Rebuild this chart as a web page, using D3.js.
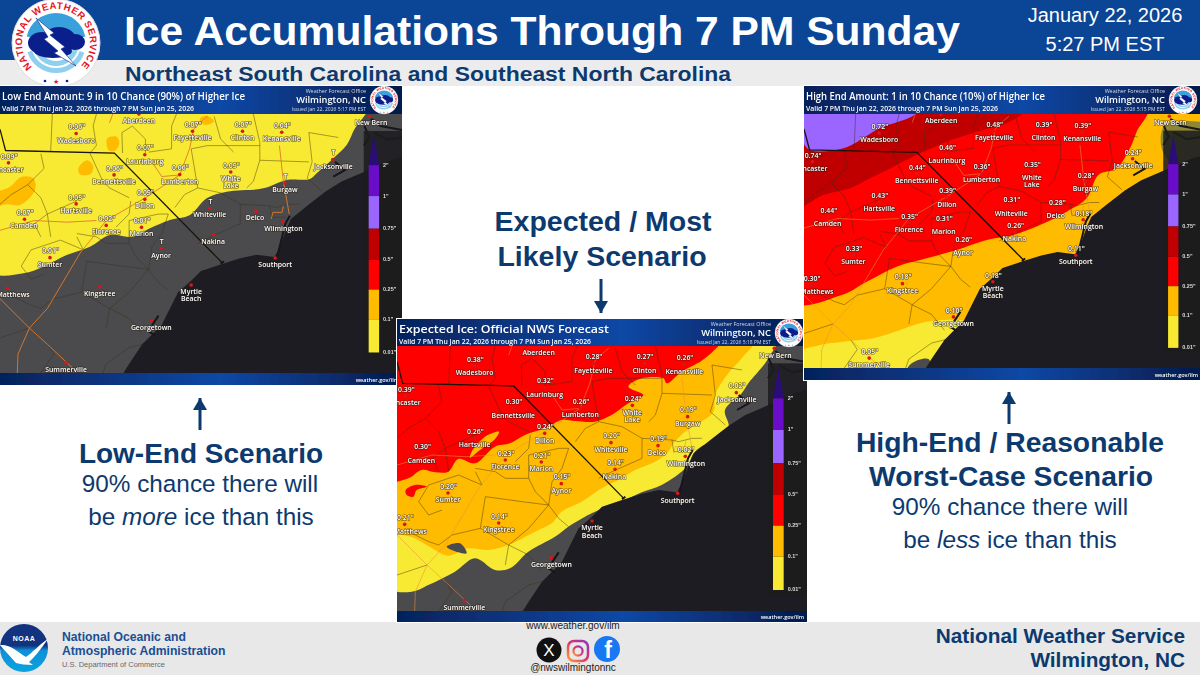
<!DOCTYPE html>
<html>
<head>
<meta charset="utf-8">
<script src="https://cdn.jsdelivr.net/npm/d3@7"></script>
<style>
html, body { margin: 0; padding: 0; background: #fff; overflow: hidden; }
svg { display: block; font-family: "Liberation Sans", sans-serif; }
.town { font-family: "Open Sans", sans-serif; font-weight: 600; fill: #fff; paint-order: stroke; stroke: rgba(40,30,20,.7); stroke-width: 1.2px; text-anchor: middle; dominant-baseline: middle; }
.bar { font-family: "Open Sans", sans-serif; }
</style>
</head>
<body>
<svg id="chart" width="1200" height="675"></svg>
<script>
// towns: name, x, y, label shift (in the units of the shared base map)
var towns = [
  ["Aberdeen", 430, 93, 0], ["Wadesboro", 238, 153, 0], ["Fayetteville", 594, 146, 0],
  ["Clinton", 747, 146, 0], ["Kenansville", 867, 149, 0], ["New Bern", 1137, 100, 3],
  ["Laurinburg", 448, 218, 0], ["Lancaster", 31, 243, -4], ["Bennettsville", 354, 280, 0],
  ["Lumberton", 555, 279, 0], ["White\nLake", 711, 271, 0], ["Jacksonville", 1023, 233, 2],
  ["Burgaw", 877, 305, 0], ["Dillon", 448, 355, 0], ["Hartsville", 238, 369, 0],
  ["Camden", 80, 416, -2], ["Florence", 330, 435, 0], ["Marion", 438, 441, 0],
  ["Whiteville", 647, 383, 0], ["Delco", 788, 392, -3], ["Wilmington", 870, 424, 2],
  ["Nakina", 659, 463, -2], ["Aynor", 498, 506, 0], ["Sumter", 158, 534, 0],
  ["Kingstree", 310, 624, 0], ["Matthews", 28, 628, 17], ["Southport", 847, 535, 0],
  ["Myrtle\nBeach", 590, 618, 0], ["Georgetown", 468, 728, 0], ["Summerville", 207, 857, 0]
];

var lowValues = { "Wadesboro": '0.06"', "Fayetteville": '0.07"', "Clinton": '0.07"', "Kenansville": '0.04"',
  "Laurinburg": '0.07"', "Lancaster": '0.09"', "Bennettsville": '0.06"', "Lumberton": '0.06"',
  "White\nLake": '0.05"', "Jacksonville": 'T', "Burgaw": 'T', "Dillon": '0.05"', "Hartsville": '0.05"',
  "Camden": '0.07"', "Florence": '0.02"', "Marion": '0.01"', "Whiteville": 'T', "Aynor": 'T', "Sumter": '0.01"' };

var midValues = { "Wadesboro": '0.38"', "Fayetteville": '0.28"', "Clinton": '0.27"', "Kenansville": '0.26"',
  "Laurinburg": '0.32"', "Lancaster": '0.39"', "Bennettsville": '0.30"', "Lumberton": '0.26"',
  "White\nLake": '0.24"', "Jacksonville": '0.02"', "Burgaw": '0.19"', "Dillon": '0.24"', "Hartsville": '0.26"',
  "Camden": '0.30"', "Florence": '0.23"', "Marion": '0.21"', "Whiteville": '0.20"', "Delco": '0.19"',
  "Wilmington": '0.02"', "Nakina": '0.14"', "Aynor": '0.15"', "Sumter": '0.20"', "Kingstree": '0.14"', "Matthews": '0.21"' };

var highValues = { "Wadesboro": '0.72"', "Fayetteville": '0.48"', "Clinton": '0.39"', "Kenansville": '0.39"',
  "Laurinburg": '0.46"', "Lancaster": '0.74"', "Bennettsville": '0.44"', "Lumberton": '0.36"',
  "White\nLake": '0.35"', "Jacksonville": '0.24"', "Burgaw": '0.28"', "Dillon": '0.39"', "Hartsville": '0.43"',
  "Camden": '0.44"', "Florence": '0.35"', "Marion": '0.31"', "Whiteville": '0.31"', "Delco": '0.28"',
  "Wilmington": '0.18"', "Southport": '0.11"', "Nakina": '0.26"', "Aynor": '0.26"', "Sumter": '0.33"',
  "Kingstree": '0.18"', "Myrtle\nBeach": '0.18"', "Georgetown": '0.10"', "Summerville": '0.05"', "Matthews": '0.30"' };

// legend
var legendLabels = ['2"', '1"', '0.75"', '0.5"', '0.25"', '0.1"', '0.01"'];
var legendBreaks = [250, 345, 445, 540, 632, 725, 825];
var legendColors = ["#6a0dc9", "#9a66ff", "#c00000", "#ff0000", "#ffbb00", "#f8ea30"];

// shared base map
var ocean = [[1300,205],[1200,235],[1120,270],[1050,300],[1000,332],[945,375],[895,415],[880,450],[862,500],[845,532],[790,525],[740,536],[680,555],[620,575],[590,605],[550,640],[520,700],[500,740],[470,770],[440,800],[400,860],[375,900],[1300,900]];
var inlets = [
  [[1140,108],[1170,130],[1235,142]], [[1150,150],[1190,172],[1235,165]], [[1120,130],[1135,165],[1118,190]],
  [[1030,240],[1060,265],[1025,285]], [[852,535],[866,480],[878,430],[892,405]],
  [[470,742],[490,712]], [[460,760],[478,772]], [[680,553],[690,545]]
];
var counties = [
  [[165,93],[160,210]], [[300,93],[290,130],[300,190],[280,213]], [[380,213],[378,150],[410,130],[450,170],[450,213]],
  [[545,93],[530,130],[530,200],[460,210]], [[660,100],[680,170],[720,210]], [[780,93],[800,180],[800,235],[780,300],[760,320]],
  [[800,235],[950,240]], [[950,150],[1040,165]], [[950,150],[960,240],[945,290],[990,330]], [[590,200],[640,190],[800,190]],
  [[590,200],[610,320],[570,340],[540,380]], [[610,320],[680,335],[740,370],[830,375],[850,380],[890,370],[920,370]],
  [[740,370],[740,430],[650,470],[610,490]], [[130,215],[140,260],[90,310],[40,340],[5,370]], [[280,213],[320,300],[340,320],[400,350]],
  [[405,360],[400,400],[360,440]], [[240,360],[150,400],[160,470]], [[150,400],[110,430],[130,470]],
  [[520,400],[490,400],[400,420],[400,490],[420,530],[460,570],[490,610],[520,635]], [[520,400],[500,460],[470,500],[460,570]],
  [[400,490],[330,490],[300,470],[240,460]], [[240,470],[260,510],[190,480],[100,510],[70,560],[100,600],[140,585]],
  [[270,545],[380,560],[460,570]], [[270,545],[255,640],[170,660],[130,690],[100,680],[40,650],[5,650]],
  [[255,640],[340,690],[400,720],[440,770]], [[460,570],[400,640],[340,690],[330,750]], [[480,790],[440,800],[400,810],[330,860],[320,888]],
  [[5,780],[95,750]], [[150,800],[170,830],[130,888]], [[830,375],[835,410],[880,410]], [[90,310],[130,350],[150,400]]
];
var roads = [
  [[58,888],[60,830],[95,750],[150,690],[250,520],[330,420],[450,350],[555,280],[585,200],[598,140]],
  [[5,450],[110,420],[210,425],[300,420]], [[5,660],[95,750],[150,800],[235,880]],
  [[860,190],[872,300],[890,400]], [[835,415],[840,395],[868,395],[872,375]], [[470,240],[500,285],[555,280]],
  [[640,100],[610,125],[598,140]], [[340,120],[350,93]]
];
var stateLine = [[5,140],[22,205],[355,213],[685,550]];

var lowYellow = [[1115,60],[1095,90],[1065,130],[1040,180],[1000,220],[950,265],[930,282],[860,285],[790,310],[680,320],[620,340],[570,390],[510,405],[450,430],[400,455],[330,450],[270,485],[200,510],[130,545],[70,565],[-30,558],[-30,50]];
var lowOrange = [
  [[322,160],[350,155],[358,175],[345,197],[325,195]], [[235,250],[262,226],[280,245],[270,268],[240,268]],
  [[-20,330],[30,305],[65,275],[100,280],[105,315],[60,360],[20,358],[-20,365]], [[600,100],[620,92],[642,108],[620,120],[605,115]]
];
var midYellow = [[1145,60],[1120,130],[1060,205],[1040,235],[990,285],[1000,340],[900,410],[875,455],[800,510],[740,532],[680,560],[600,590],[570,605],[520,635],[480,665],[400,710],[345,760],[300,765],[240,730],[180,770],[100,810],[50,830],[-20,815],[-30,50]];
var midOrange = [[1085,60],[1040,130],[1000,175],[960,240],[955,290],[910,325],[870,350],[835,385],[820,410],[780,440],[720,465],[680,490],[620,520],[560,560],[500,590],[470,625],[420,650],[340,690],[280,705],[220,700],[160,722],[120,705],[60,670],[-20,635],[-30,50]];
var midRed = [[985,60],[930,130],[860,170],[815,205],[805,190],[740,190],[700,215],[745,240],[700,265],[650,300],[600,320],[540,318],[500,315],[450,340],[390,360],[345,385],[300,395],[240,445],[190,432],[160,470],[120,472],[80,465],[40,490],[-20,495],[-30,50]];
var midRedBlob = [[32,525],[60,510],[95,515],[65,525],[55,545],[35,540]];
var midOrangeStrip = [[230,410],[270,365],[312,350],[300,372],[255,405],[225,428]];
var midLake = [[155,695],[195,685],[215,715],[190,712]];
var highLand = [[-40,30],[1300,30],[1300,900],[-40,900]];
var highYellow = [[-30,815],[60,780],[130,770],[220,760],[300,735],[360,715],[430,705],[520,720],[560,900],[-30,900]];
var highRed = [[1045,60],[1010,140],[990,190],[950,250],[895,270],[860,340],[800,380],[720,420],[640,450],[560,465],[470,495],[380,520],[290,545],[200,590],[125,630],[-30,650],[-30,40]];
var highDarkRed = [[690,60],[620,115],[550,135],[440,170],[360,205],[280,245],[210,280],[150,310],[70,330],[-30,375],[-30,40]];
var highPurple = [[355,60],[345,88],[240,130],[130,190],[30,195],[-5,160],[-30,240],[-40,40]];
var highOlive = [[1095,120],[1200,110],[1260,120],[1260,210],[1120,235],[1085,190]];
var highGray = [[320,860],[335,835],[385,822],[395,860]];

var panels = [
  { title: "Low End Amount: 9 in 10 Chance (90%) of Higher Ice", issued: "Issued Jan 22, 2026 5:17 PM EST", values: lowValues,
    x0: 0, x1: 402, top: 86, y0: 114, y1: 373, bottom: 385, ox: 0, oy: 85, titleEnd: 245,
    areas: [[lowYellow, "yellow"]].concat(lowOrange.map(function(d) { return [d, "orange"]; })) },
  { title: "Expected Ice: Official NWS Forecast", issued: "Issued Jan 22, 2026 5:18 PM EST", values: midValues,
    x0: 397, x1: 807, top: 319, y0: 346, y1: 611, bottom: 622, ox: 395, oy: 315, titleEnd: 609,
    areas: [[midYellow, "yellow"], [midOrange, "orange"], [midRed, "red"], [midRedBlob, "red"], [midOrangeStrip, "orange"], [midLake, "gray"]] },
  { title: "High End Amount: 1 in 10 Chance (10%) of Higher Ice", issued: "Issued Jan 22, 2026 5:15 PM EST", values: highValues,
    x0: 804, x1: 1201, top: 86, y0: 114, y1: 368, bottom: 380, ox: 800, oy: 85, titleEnd: 1045,
    areas: [[highLand, "orange"], [highYellow, "yellow"], [highRed, "red"], [highDarkRed, "darkred"], [highPurple, "purple"], [highGray, "gray"], [highOlive, "olive"]] }
];
var areaColors = { yellow: "#f8ea30", orange: "#ffbb00", red: "#ff0000", darkred: "#c00000", purple: "#9a66ff", gray: "#4b4b4d", olive: "#8d8734" };

var NAVY = "#0d3a6e";
var svg = d3.select("#chart");
var defs = svg.append("defs");

var barGrad = defs.append("linearGradient").attr("id", "bar");
barGrad.append("stop").attr("offset", "0").attr("stop-color", "#06225a");
barGrad.append("stop").attr("offset", ".55").attr("stop-color", "#0c48a6");
barGrad.append("stop").attr("offset", "1").attr("stop-color", "#051a4a");

var igGrad = defs.append("linearGradient").attr("id", "ig").attr("x1", 0).attr("y1", 1).attr("x2", 1).attr("y2", 0);
igGrad.append("stop").attr("offset", "0").attr("stop-color", "#f9a33a");
igGrad.append("stop").attr("offset", ".5").attr("stop-color", "#e1306c");
igGrad.append("stop").attr("offset", "1").attr("stop-color", "#8a3ab9");

var noaaGrad = defs.append("linearGradient").attr("id", "noaa").attr("x1", 0).attr("y1", 0).attr("x2", 0).attr("y2", 1);
noaaGrad.append("stop").attr("offset", ".45").attr("stop-color", "#12337f");
noaaGrad.append("stop").attr("offset", ".55").attr("stop-color", "#0f8fd6");
noaaGrad.append("stop").attr("offset", "1").attr("stop-color", "#0aa3e0");

// the source maps are soft screenshots
defs.append("filter").attr("id", "soft").append("feGaussianBlur").attr("stdDeviation", 0.35);

// header
svg.append("rect").attr("width", 1200).attr("height", 60).attr("fill", "#0b4595");
svg.append("rect").attr("y", 60).attr("width", 1200).attr("height", 26).attr("fill", "#ececec");
svg.append("text").attr("x", 124).attr("y", 45).attr("fill", "#fff").attr("font-size", 40).attr("font-weight", "bold")
  .attr("textLength", 836).attr("lengthAdjust", "spacingAndGlyphs").text("Ice Accumulations Through 7 PM Sunday");
svg.append("text").attr("x", 1105).attr("y", 22).attr("fill", "#fff").attr("font-size", 20).attr("text-anchor", "middle").text("January 22, 2026");
svg.append("text").attr("x", 1105).attr("y", 51).attr("fill", "#fff").attr("font-size", 20).attr("text-anchor", "middle").text("5:27 PM EST");
svg.append("text").attr("x", 125).attr("y", 81).attr("fill", NAVY).attr("font-size", 20).attr("font-weight", "bold")
  .attr("textLength", 606).attr("lengthAdjust", "spacingAndGlyphs").text("Northeast South Carolina and Southeast North Carolina");

drawLogo(svg, 56, 43, 44, "big");

// footer
svg.append("rect").attr("y", 622).attr("width", 1200).attr("height", 53).attr("fill", "#e8e8e8");

panels.forEach(drawPanel);

// captions
function caption(x, y, size, bold, parts) {
  var t = svg.append("text").attr("x", x).attr("y", y).attr("fill", NAVY).attr("font-size", size)
    .attr("text-anchor", "middle").attr("font-weight", bold ? "bold" : "normal");
  parts.forEach(function(p) {
    t.append("tspan").attr("font-style", p[1] ? "italic" : "normal").text(p[0]);
  });
}
caption(201, 463, 28, true, [["Low-End Scenario"]]);
caption(200, 492, 24.3, false, [["90% chance there will"]]);
caption(201, 525, 24.3, false, [["be "], ["more", true], [" ice than this"]]);
caption(603, 231, 28.5, true, [["Expected / Most"]]);
caption(602, 266, 28.5, true, [["Likely Scenario"]]);
caption(1010, 452, 28.3, true, [["High-End / Reasonable"]]);
caption(1011, 486, 28.3, true, [["Worst-Case Scenario"]]);
caption(1010, 515, 24.3, false, [["90% chance there will"]]);
caption(1010, 548, 24.3, false, [["be "], ["less", true], [" ice than this"]]);

function arrow(x, y1, y2) {
  svg.append("line").attr("x1", x).attr("x2", x).attr("y1", y1).attr("y2", y2).attr("stroke", NAVY).attr("stroke-width", 3);
  svg.append("path").attr("fill", NAVY)
    .attr("d", d3.line()([[x - 7, y2 > y1 ? y2 - 12 : y2 + 12], [x, y2], [x + 7, y2 > y1 ? y2 - 12 : y2 + 12]]));
}
arrow(200, 430, 398);
arrow(601, 279, 313);
arrow(1009, 424, 392);

// footer left
drawNoaa(24, 648, 24);
svg.append("text").attr("x", 62).attr("y", 641).attr("fill", "#1a4f95").attr("font-size", 12.2).attr("font-weight", "bold").text("National Oceanic and");
svg.append("text").attr("x", 62).attr("y", 655).attr("fill", "#1a4f95").attr("font-size", 12.2).attr("font-weight", "bold").text("Atmospheric Administration");
svg.append("text").attr("x", 62).attr("y", 667).attr("fill", "#6a6a6a").attr("font-size", 7.5).text("U.S. Department of Commerce");

// footer middle
svg.append("text").attr("x", 573).attr("y", 629).attr("fill", "#222").attr("font-size", 10).attr("text-anchor", "middle").text("www.weather.gov/ilm");
svg.append("text").attr("x", 573).attr("y", 671).attr("fill", "#222").attr("font-size", 10).attr("text-anchor", "middle").text("@nwswilmingtonnc");
svg.append("circle").attr("cx", 549).attr("cy", 650).attr("r", 12.5).attr("fill", "#111");
svg.append("text").attr("x", 549).attr("y", 656).attr("fill", "#fff").attr("font-size", 17).attr("text-anchor", "middle").text("X");
svg.append("rect").attr("x", 568).attr("y", 641).attr("width", 20).attr("height", 20).attr("rx", 6).attr("fill", "none").attr("stroke", "url(#ig)").attr("stroke-width", 2.5);
svg.append("circle").attr("cx", 578).attr("cy", 651).attr("r", 4.6).attr("fill", "none").attr("stroke", "url(#ig)").attr("stroke-width", 2.2);
svg.append("circle").attr("cx", 607).attr("cy", 649).attr("r", 13).attr("fill", "#1877f2");
svg.append("text").attr("x", 608).attr("y", 658).attr("fill", "#fff").attr("font-size", 23).attr("font-weight", "bold").attr("text-anchor", "middle").text("f");

// footer right
svg.append("text").attr("x", 1185).attr("y", 643).attr("fill", NAVY).attr("font-size", 20.8).attr("font-weight", "bold").attr("text-anchor", "end").text("National Weather Service");
svg.append("text").attr("x", 1185).attr("y", 667).attr("fill", NAVY).attr("font-size", 20.8).attr("font-weight", "bold").attr("text-anchor", "end").text("Wilmington, NC");

function drawPanel(p, i) {
  var g = svg.append("g").attr("filter", "url(#soft)");
  var w = p.x1 - p.x0;
  var x = d3.scaleLinear().domain([5, 1235]).range([p.x0, p.x1]);
  var y = d3.scaleLinear().domain([93, 888]).range([p.y0, p.y1]);
  // ice areas were read in 3x crops of each map
  var zx = d3.scaleLinear().domain([0, 3]).range([p.ox, p.ox + 1]);
  var zy = d3.scaleLinear().domain([0, 3]).range([p.oy, p.oy + 1]);
  var baseLine = d3.line().x(function(d) { return x(d[0]); }).y(function(d) { return y(d[1]); });
  var areaLine = d3.line().x(function(d) { return zx(d[0]); }).y(function(d) { return zy(d[1]); }).curve(d3.curveCatmullRomClosed.alpha(0.5));

  defs.append("clipPath").attr("id", "clip" + i).append("rect")
    .attr("x", p.x0).attr("y", p.y0).attr("width", w).attr("height", p.y1 - p.y0);

  g.append("rect").attr("x", p.x0 - 1).attr("y", p.top - 1).attr("width", w + 2).attr("height", p.bottom - p.top + 2).attr("fill", "#fff");

  var map = g.append("g").attr("clip-path", "url(#clip" + i + ")");
  map.append("rect").attr("x", p.x0).attr("y", p.y0).attr("width", w).attr("height", p.y1 - p.y0).attr("fill", "#4b4b4d");

  map.selectAll("path.area").data(p.areas).join("path").attr("class", "area")
    .attr("d", function(d) { return areaLine(d[0]); })
    .attr("fill", function(d) { return areaColors[d[1]]; });

  map.selectAll("path.county").data(counties).join("path").attr("class", "county")
    .attr("d", baseLine).attr("fill", "none").attr("stroke", "rgba(55,45,20,.55)").attr("stroke-width", 0.8);
  map.selectAll("path.road").data(roads).join("path").attr("class", "road")
    .attr("d", baseLine).attr("fill", "none").attr("stroke", i == 0 ? "#e07a2a" : "#e8923a").attr("stroke-opacity", i == 0 ? .9 : .55).attr("stroke-width", 1);

  map.append("path").attr("d", baseLine(ocean) + "Z").attr("fill", "#1d1d23");
  map.selectAll("path.inlet").data(inlets).join("path").attr("class", "inlet")
    .attr("d", baseLine).attr("fill", "none").attr("stroke", "#15151a").attr("stroke-width", 2);
  map.append("path").attr("d", baseLine(stateLine)).attr("fill", "none").attr("stroke", "#1a1208").attr("stroke-width", 1.3);

  // legend
  var leg = map.append("g");
  var barX = x(1133), barW = x(1165) - x(1133);
  leg.append("rect").attr("x", x(1118)).attr("y", y(145)).attr("width", x(1240) - x(1118)).attr("height", y(843) - y(145)).attr("fill", "#1b1b1f").attr("fill-opacity", .85);
  leg.append("path").attr("fill", "#2c0a78")
    .attr("d", d3.line()([[barX, y(legendBreaks[0])], [barX + barW / 2, y(160)], [barX + barW, y(legendBreaks[0])]]));
  leg.selectAll("rect.step").data(legendColors).join("rect").attr("class", "step")
    .attr("x", barX).attr("width", barW)
    .attr("y", function(d, k) { return y(legendBreaks[k]); })
    .attr("height", function(d, k) { return y(legendBreaks[k + 1]) - y(legendBreaks[k]); })
    .attr("fill", function(d) { return d; });
  leg.selectAll("text").data(legendLabels).join("text")
    .attr("x", x(1177)).attr("y", function(d, k) { return y(legendBreaks[k]); })
    .attr("fill", "#ddd").attr("font-size", 5.5).attr("font-weight", "bold").attr("dominant-baseline", "middle").text(function(d) { return d; });

  // towns
  var tg = map.append("g");
  tg.selectAll("circle").data(towns).join("circle")
    .attr("cx", function(d) { return x(d[1]); }).attr("cy", function(d) { return y(d[2]); })
    .attr("r", 1.8).attr("fill", "#d8141c");
  towns.forEach(function(t) {
    t[0].split("\n").forEach(function(line, k) {
      tg.append("text").attr("class", "town").attr("font-size", 6.9)
        .attr("x", x(t[1] + t[3])).attr("y", y(t[2] + 22 + k * 22)).text(line);
    });
    if (p.values[t[0]]) {
      tg.append("text").attr("class", "town").attr("font-size", 6.9)
        .attr("x", x(t[1] + 2)).attr("y", y(t[2] - 19)).text(p.values[t[0]]);
    }
  });

  // title bar
  g.append("rect").attr("x", p.x0).attr("y", p.top).attr("width", w).attr("height", p.y0 - p.top).attr("fill", "url(#bar)");
  g.append("rect").attr("x", p.x0).attr("y", p.y1).attr("width", w).attr("height", p.bottom - p.y1).attr("fill", "url(#bar)");
  g.append("text").attr("class", "bar").attr("x", p.x0 + 2).attr("y", p.top + 14).attr("fill", "#fff").attr("font-size", 11.5).attr("font-weight", 600)
    .attr("textLength", p.titleEnd - p.x0 - 2).attr("lengthAdjust", "spacingAndGlyphs").text(p.title);
  g.append("text").attr("class", "bar").attr("x", p.x0 + 2).attr("y", p.top + 25).attr("fill", "#fff").attr("font-size", 6.4).attr("font-weight", 600)
    .attr("textLength", 192).attr("lengthAdjust", "spacingAndGlyphs").text("Valid 7 PM Thu Jan 22, 2026 through 7 PM Sun Jan 25, 2026");
  var rx = p.x1 - 36;
  g.append("text").attr("class", "bar").attr("x", rx).attr("y", p.top + 6.5).attr("fill", "#d8dcec").attr("font-size", 5.4).attr("text-anchor", "end").text("Weather Forecast Office");
  g.append("text").attr("class", "bar").attr("x", rx).attr("y", p.top + 17).attr("fill", "#fff").attr("font-size", 9.3).attr("font-weight", 600).attr("text-anchor", "end").text("Wilmington, NC");
  g.append("text").attr("class", "bar").attr("x", rx).attr("y", p.top + 25).attr("fill", "#d8dcec").attr("font-size", 5).attr("text-anchor", "end").text(p.issued);
  drawLogo(g, p.x1 - 18, p.top + 14, 14, "small" + i);
  g.append("text").attr("class", "bar").attr("x", p.x1 - 3).attr("y", p.bottom - 3.5).attr("fill", "#fff").attr("font-size", 5.5).attr("font-weight", 600).attr("text-anchor", "end").text("weather.gov/ilm");
}

function drawLogo(parent, cx, cy, r, id) {
  var g = parent.append("g").attr("transform", "translate(" + cx + "," + cy + ") scale(" + r / 44 + ")");
  g.append("circle").attr("r", 44).attr("fill", "#fff").attr("stroke", "#dfdfdf").attr("stroke-width", 1);
  g.append("path").attr("fill", "#3aa0dc").attr("d", d3.arc()({ innerRadius: 14, outerRadius: 30, startAngle: -1.35, endAngle: 1.35 }));
  g.append("path").attr("fill", "#8fd0ee").attr("d", d3.arc()({ innerRadius: 18, outerRadius: 30, startAngle: 1.9, endAngle: 4.4 }));
  g.append("path").attr("fill", "#fff").attr("d", d3.arc()({ innerRadius: 23, outerRadius: 25, startAngle: 1.9, endAngle: 4.4 }));
  [[-14, 0, 14, 11], [3, -3, 17, 13], [19, -1, 10, 8], [-3, 8, 19, 7]].forEach(function(c) {
    g.append("ellipse").attr("cx", c[0]).attr("cy", c[1]).attr("rx", c[2]).attr("ry", c[3]).attr("fill", "#0a1e8c");
  });
  g.append("path").attr("fill", "#fff").attr("stroke", "#0a1e8c").attr("stroke-width", .6)
    .attr("d", d3.line()([[-20, -25], [-2, -10], [-6, -8], [9, 4], [5, 6], [20, 23], [-2, 10], [2, 8], [-12, -4], [-8, -6]]) + "Z");
  defs.append("path").attr("id", "ring" + id).attr("d", "M -24,24 A 34,34 0 1 1 24,24");
  g.append("text").attr("fill", "#e5141d").attr("font-size", 9.6).attr("font-weight", "bold")
    .append("textPath").attr("href", "#ring" + id).attr("textLength", 158).attr("startOffset", "0%").text("NATIONAL WEATHER SERVICE");
  g.append("text").attr("y", 41).attr("fill", "#e5141d").attr("font-size", 7).attr("text-anchor", "middle").text("\u2605");
  g.append("circle").attr("cx", -11).attr("cy", 38).attr("r", 1.3).attr("fill", "#0a1e8c");
  g.append("circle").attr("cx", 11).attr("cy", 38).attr("r", 1.3).attr("fill", "#0a1e8c");
}

function drawNoaa(cx, cy, r) {
  var g = svg.append("g").attr("transform", "translate(" + cx + "," + cy + ")");
  g.append("circle").attr("r", r).attr("fill", "url(#noaa)");
  g.append("path").attr("fill", "#fff")
    .attr("d", "M" + -r + ",-3 C-14,-4 -6,4 2,9 C8,5 16,-4 " + r + ",-9 C16,2 10,10 5,14 L9,17 C2,17 -4,16 -8,15 C-14,8 -20,2 " + -r + ",-3Z");
  g.append("text").attr("y", -7).attr("fill", "#fff").attr("font-size", 7).attr("font-weight", "bold").attr("text-anchor", "middle").attr("letter-spacing", .5).text("NOAA");
}
</script>
</body>
</html>
